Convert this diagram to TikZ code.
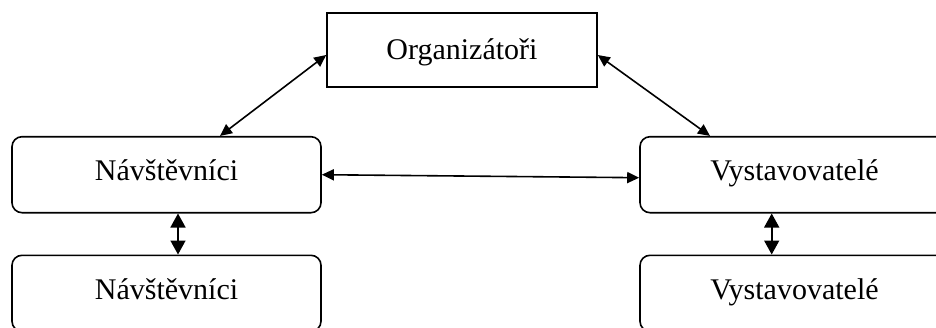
\documentclass[tikz,border=0pt]{standalone}
\usepackage{fontspec}
\setmainfont{Liberation Serif}
\usetikzlibrary{arrows.meta}

\begin{document}
\begin{tikzpicture}[x=1pt, y=-1pt, line width=1.6pt,
  box/.style={draw, minimum width=270pt, minimum height=74pt, inner sep=0pt,
    text height=22pt, text depth=4pt, font=\fontsize{30}{34}\selectfont},
  rbox/.style={box, rounded corners=10pt, minimum width=309pt, minimum height=76pt,
    text height=20pt, text depth=8pt},
  both/.style={{Triangle[length=12pt,width=11pt]}-{Triangle[length=12pt,width=11pt]}},
  bothv/.style={{Triangle[length=14pt,width=15pt]}-{Triangle[length=14pt,width=15pt]}}]
\useasboundingbox (0,0) rectangle (936,327);

\node[box] (org) at (462,50) {Organizátoři};

\node[rbox] (nav) at (166.5,174.7) {Návštěvníci};
\node[rbox] (nav2) at (166.5,293.3) {Návštěvníci};

\node[rbox] (vys) at (794.5,174.7) {Vystavovatelé};
\node[rbox] (vys2) at (794.5,293.3) {Vystavovatelé};

\draw [both] ([yshift=-5pt]org.west) -- ([xshift=53.5pt]nav.north);
\draw [both] ([yshift=-5pt]org.east) -- ([xshift=-84.5pt]vys.north);
\draw [both] (nav.east) -- ([yshift=-3pt]vys.west);

\draw [bothv] ([xshift=11.5pt]nav.south) -- ([xshift=11.5pt]nav2.north);
\draw [bothv] ([xshift=-22.8pt]vys.south) -- ([xshift=-22.8pt]vys2.north);
\end{tikzpicture}
\end{document}
